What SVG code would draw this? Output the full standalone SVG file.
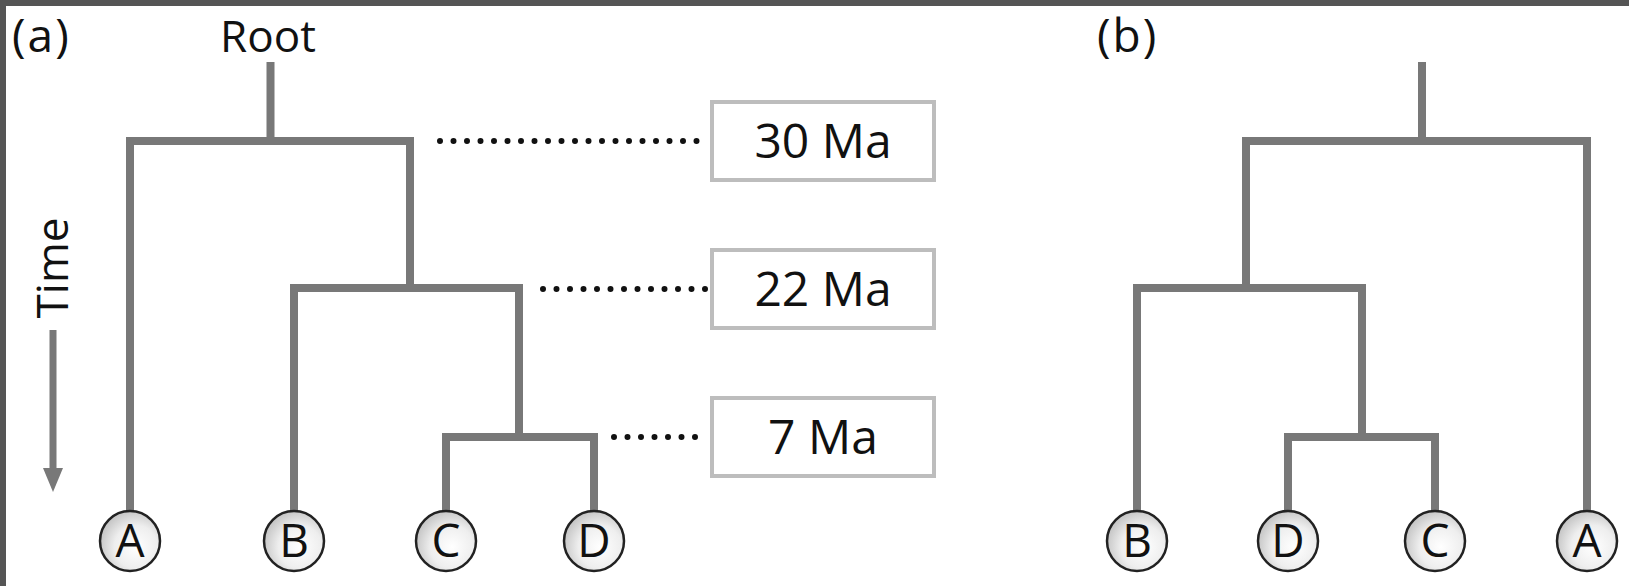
<svg xmlns="http://www.w3.org/2000/svg" width="1629" height="586" viewBox="0 0 1629 586">
<style>
  .br{fill:none;stroke:#787878;stroke-width:8;stroke-linejoin:miter;stroke-linecap:butt}
  .dot{fill:none;stroke:#111;stroke-width:6;stroke-linecap:round;stroke-dasharray:0 13.5}
  .box{fill:#fff;stroke:#bdbdbd;stroke-width:4}
  .lbl{font-family:"Open Sans","Liberation Sans",sans-serif;fill:#111}
  .leaf{fill:url(#g);stroke:#222;stroke-width:2.5}
  .lt{font-family:"Open Sans","Liberation Sans",sans-serif;font-size:46px;fill:#111;text-anchor:middle}
</style>
<defs>
  <radialGradient id="g" cx="0.6" cy="0.6" r="0.6">
    <stop offset="0" stop-color="#ffffff"/>
    <stop offset="0.6" stop-color="#eeeeee"/>
    <stop offset="1" stop-color="#c8c8c8"/>
  </radialGradient>
</defs>
<rect x="0" y="0" width="1629" height="586" fill="#fff"/>
<rect x="0" y="0" width="1629" height="6" fill="#555"/>
<rect x="0" y="0" width="6" height="586" fill="#555"/>

<text class="lbl" x="12" y="52" font-size="46" letter-spacing="2">(a)</text>
<text class="lbl" x="1097" y="52" font-size="46" letter-spacing="2">(b)</text>
<text class="lbl" x="268" y="52" font-size="44" text-anchor="middle">Root</text>

<g id="time">
  <text class="lbl" font-size="44" text-anchor="middle" transform="translate(68,268) rotate(-90)">Time</text>
  <line x1="53" y1="330" x2="53" y2="472" stroke="#787878" stroke-width="7"/>
  <polygon points="43,468 63,468 53,492" fill="#787878"/>
</g>

<g id="connectors">
  <path class="br" d="M270.5,62 V141 M130,510 V141 H410 V288 M294,510 V288 H519 V437 M446,510 V437 H594 V510"/>
  <path class="br" d="M1422,62 V141 M1246,288 V141 H1587 V510 M1137,510 V288 H1362 V437 M1288,510 V437 H1435 V510"/>
  <line class="dot" x1="440" y1="141" x2="708" y2="141"/>
  <line class="dot" x1="543" y1="289" x2="708" y2="289"/>
  <line class="dot" x1="614" y1="437" x2="708" y2="437"/>
</g>

<g id="t30">
  <rect class="box" x="712" y="102" width="222" height="78"/>
  <text class="lbl" x="823" y="158" font-size="48" text-anchor="middle">30 Ma</text>
</g>
<g id="t22">
  <rect class="box" x="712" y="250" width="222" height="78"/>
  <text class="lbl" x="823" y="306" font-size="48" text-anchor="middle">22 Ma</text>
</g>
<g id="t7">
  <rect class="box" x="712" y="398" width="222" height="78"/>
  <text class="lbl" x="823" y="454" font-size="48" text-anchor="middle">7 Ma</text>
</g>

<g id="a-A"><circle class="leaf" cx="130" cy="541" r="30"/><text class="lt" x="130" y="557">A</text></g>
<g id="a-B"><circle class="leaf" cx="294" cy="541" r="30"/><text class="lt" x="294" y="557">B</text></g>
<g id="a-C"><circle class="leaf" cx="446" cy="541" r="30"/><text class="lt" x="446" y="557">C</text></g>
<g id="a-D"><circle class="leaf" cx="594" cy="541" r="30"/><text class="lt" x="594" y="557">D</text></g>

<g id="b-B"><circle class="leaf" cx="1137" cy="541" r="30"/><text class="lt" x="1137" y="557">B</text></g>
<g id="b-D"><circle class="leaf" cx="1288" cy="541" r="30"/><text class="lt" x="1288" y="557">D</text></g>
<g id="b-C"><circle class="leaf" cx="1435" cy="541" r="30"/><text class="lt" x="1435" y="557">C</text></g>
<g id="b-A"><circle class="leaf" cx="1587" cy="541" r="30"/><text class="lt" x="1587" y="557">A</text></g>
</svg>
